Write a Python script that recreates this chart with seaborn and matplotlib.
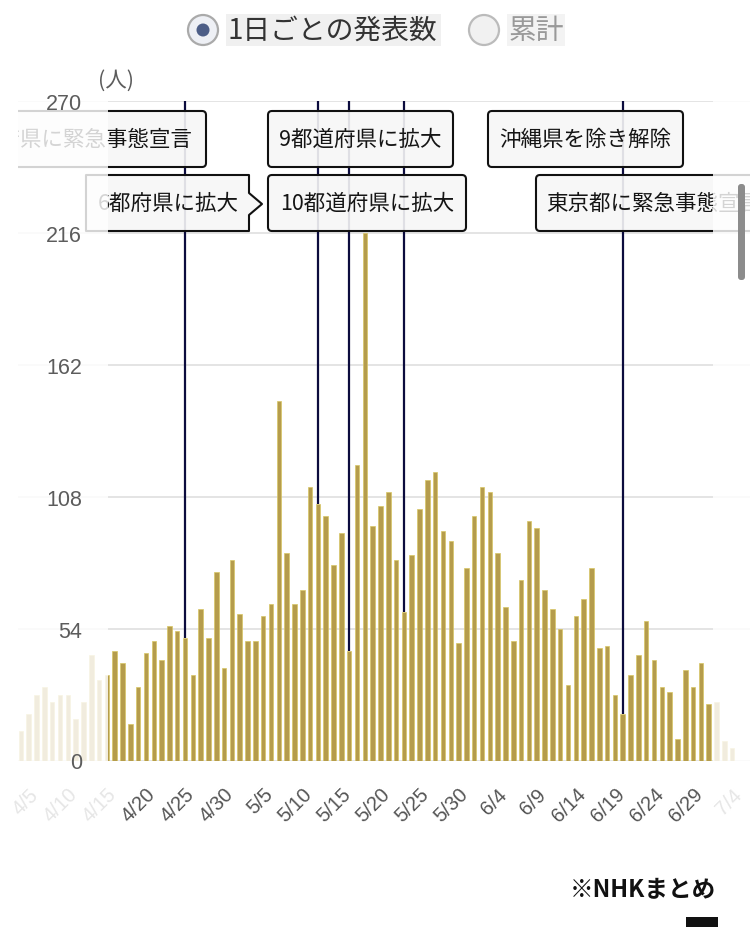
import matplotlib
matplotlib.use("Agg")
import matplotlib.pyplot as plt
import pandas as pd
import seaborn as sns
from matplotlib.patches import FancyBboxPatch, Rectangle, Polygon, Circle
from matplotlib.transforms import Affine2D

# ---------------- data ----------------
dates = ["4/4", "4/5", "4/6", "4/7", "4/8", "4/9", "4/10", "4/11", "4/12", "4/13",
         "4/14", "4/15", "4/16", "4/17", "4/18", "4/19", "4/20", "4/21", "4/22", "4/23",
         "4/24", "4/25", "4/26", "4/27", "4/28", "4/29", "4/30", "5/1", "5/2", "5/3",
         "5/4", "5/5", "5/6", "5/7", "5/8", "5/9", "5/10", "5/11", "5/12", "5/13",
         "5/14", "5/15", "5/16", "5/17", "5/18", "5/19", "5/20", "5/21", "5/22", "5/23",
         "5/24", "5/25", "5/26", "5/27", "5/28", "5/29", "5/30", "5/31", "6/1", "6/2",
         "6/3", "6/4", "6/5", "6/6", "6/7", "6/8", "6/9", "6/10", "6/11", "6/12",
         "6/13", "6/14", "6/15", "6/16", "6/17", "6/18", "6/19", "6/20", "6/21", "6/22",
         "6/23", "6/24", "6/25", "6/26", "6/27", "6/28", "6/29", "6/30", "7/1", "7/2",
         "7/3", "7/4"]
deaths = [12, 19, 27, 30, 24, 27, 27, 17, 24, 43,
          33, 35, 45, 40, 15, 30, 44, 49, 41, 55,
          53, 50, 35, 62, 50, 77, 38, 82, 60, 49,
          49, 59, 64, 147, 85, 64, 70, 112, 105, 100,
          80, 93, 45, 121, 216, 96, 104, 110, 82, 61,
          84, 103, 115, 118, 94, 90, 48, 79, 100, 112,
          110, 85, 63, 49, 74, 98, 95, 70, 62, 54,
          31, 59, 66, 79, 46, 47, 27, 19, 35, 43,
          57, 41, 30, 28, 9, 37, 30, 40, 23, 24,
          8, 5]
visible_first, visible_last = "4/16", "7/1"
tick_dates = ["4/5", "4/10", "4/15", "4/20", "4/25", "4/30", "5/5", "5/10", "5/15",
              "5/20", "5/25", "5/30", "6/4", "6/9", "6/14", "6/19", "6/24", "6/29", "7/4"]
y_ticks = [0, 54, 108, 162, 216, 270]
event_labels = ["4都府県に緊急事態宣言", "6都府県に拡大", "9都道府県に拡大",
                "10都道府県に拡大", "沖縄県を除き解除", "東京都に緊急事態宣言"]
event_dates = ["4/25", "5/12", "5/16", "5/23", "6/20", "7/12"]

# ---------------- style ----------------
sns.set_style("white")
CJK = ["Noto Sans CJK JP", "DejaVu Sans"]
NUM = ["Liberation Sans", "DejaVu Sans"]
plt.rcParams["font.family"] = CJK

W, H = 750, 928
fig = plt.figure(figsize=(W / 100, H / 100), dpi=100)
fig.patch.set_facecolor("white")
PX = Affine2D().scale(1 / W, -1 / H).translate(0, 1) + fig.transFigure

y_base, y_top = 761.5, 102.0
x0_px, pitch = 20.9, 7.816
ax = fig.add_axes([0, 1 - y_base / H, 1, (y_base - y_top) / H])

df = pd.DataFrame({"date": dates, "deaths": deaths})
sns.barplot(data=df, x="date", y="deaths", order=dates, color="#b59c4c",
            saturation=1, width=0.58, edgecolor="#d8c663", linewidth=0.5,
            errorbar=None, ax=ax)

ax.set_xlim(-x0_px / pitch, (W - x0_px) / pitch)
ax.set_ylim(0, 270)
ax.set_xlabel("")
ax.set_ylabel("")
for s in ax.spines.values():
    s.set_visible(False)

# gridlines (drawn below bars), axis labels stay above the fades
ax.grid(False)
for v in y_ticks:
    ax.axhline(v, color="#dddddd", lw=1.1, zorder=0.5)

ax.set_yticks(y_ticks)
ax.set_yticklabels([str(v) for v in y_ticks], family=NUM)
ax.tick_params(axis="y", length=0, pad=-82 * 0.72, labelsize=15.5, labelcolor="#5c5c5c")

idx = {d: i for i, d in enumerate(dates)}
ax.set_xticks([idx[d] for d in tick_dates])
ax.set_xticklabels(tick_dates, rotation=45, ha="right", rotation_mode="anchor", family=NUM)
ax.tick_params(axis="x", length=0, pad=17, labelsize=14.5, labelcolor="#555555")
i0, i1 = idx[visible_first], idx[visible_last]
for lab, d in zip(ax.get_xticklabels(), tick_dates):
    if idx[d] < i0 or idx[d] > i1:
        lab.set_color("#e6e6e6")
ax.xaxis.set_zorder(3)
ax.yaxis.set_zorder(3)

# event lines
for d in event_dates:
    if d in idx:
        ax.vlines(idx[d], deaths[idx[d]], 270, color="#0c0c3e", lw=1.6, zorder=1.2)

# event boxes (layout in pixels)
def box(x0, x1, y0, y1):
    p = FancyBboxPatch((x0, y0), x1 - x0, y1 - y0,
                       boxstyle="round,pad=0,rounding_size=4", transform=PX,
                       facecolor=(0.97, 0.97, 0.97, 0.9), edgecolor="#111111",
                       lw=1.5, zorder=1.5)
    ax.add_patch(p)

r1, r2 = (112, 168), (176, 232)
tk = dict(transform=PX, va="center", fontsize=15.5, color="#151515", zorder=1.7, family=CJK)

box(-60, 206, *r1)
ax.text(193, 140, event_labels[0], ha="right", **tk)

chev = Polygon([(86, 176), (249, 176), (249, 194), (262, 205), (249, 216), (249, 232), (86, 232)],
               closed=True, transform=PX, facecolor=(0.97, 0.97, 0.97, 0.9),
               edgecolor="#111111", lw=1.5, zorder=1.5, joinstyle="round")
ax.add_patch(chev)
ax.text(168, 204, event_labels[1], ha="center", **tk)

box(268, 453, *r1)
ax.text(360.5, 140, event_labels[2], ha="center", **tk)
box(268, 466, *r2)
ax.text(367, 204, event_labels[3], ha="center", **tk)
box(488, 683, *r1)
ax.text(585.5, 140, event_labels[4], ha="center", **tk)
box(536, 800, *r2)
ax.text(546, 204, event_labels[5], ha="left", **tk)

# scrolled-out fades
for (fx, fw) in [(0, 108), (713, 40)]:
    ax.add_patch(Rectangle((fx, 90), fw, 700, transform=PX, facecolor="white",
                           edgecolor="none", alpha=0.82, zorder=2.2))
ax.add_patch(Rectangle((0, 90), 18, 700, transform=PX, facecolor="white",
                       edgecolor="none", zorder=2.3))

# unit label
fig.text(116 / W, 1 - 81 / H, "(人)", ha="center", va="center", fontsize=15.5,
         color="#5c5c5c", family=CJK)

# radio buttons
fig.add_artist(Rectangle((226, 15), 215, 32, transform=PX, facecolor="#f0f0f0", edgecolor="none"))
fig.add_artist(Rectangle((507, 15), 58, 32, transform=PX, facecolor="#f3f3f3", edgecolor="none"))
fig.add_artist(Circle((203, 31), 15, transform=PX, facecolor="#eef0f5", edgecolor="#aaaaaa", lw=1.6))
fig.add_artist(Circle((203, 31), 6.5, transform=PX, facecolor="#4d5e87", edgecolor="none"))
fig.add_artist(Circle((484, 31), 15, transform=PX, facecolor="#f1f1f1", edgecolor="#bbbbbb", lw=1.6))
fig.text(228 / W, 1 - 31 / H, "1日ごとの発表数", ha="left", va="center", fontsize=20,
         color="#333333", family=CJK)
fig.text(509 / W, 1 - 31 / H, "累計", ha="left", va="center", fontsize=20,
         color="#999999", family=CJK)

# scrollbar and footer
fig.add_artist(FancyBboxPatch((738, 185), 7, 96, boxstyle="round,pad=0,rounding_size=3",
                              transform=PX, facecolor="#8c8c8c", edgecolor="none"))
fig.text(716 / W, 1 - 890 / H, "※NHKまとめ", ha="right", va="center", fontsize=17,
         fontweight="bold", color="#111111", family=CJK)
fig.add_artist(Rectangle((686, 918), 32, 10, transform=PX, facecolor="#111111", edgecolor="none"))

fig.savefig("out.png", dpi=100)
